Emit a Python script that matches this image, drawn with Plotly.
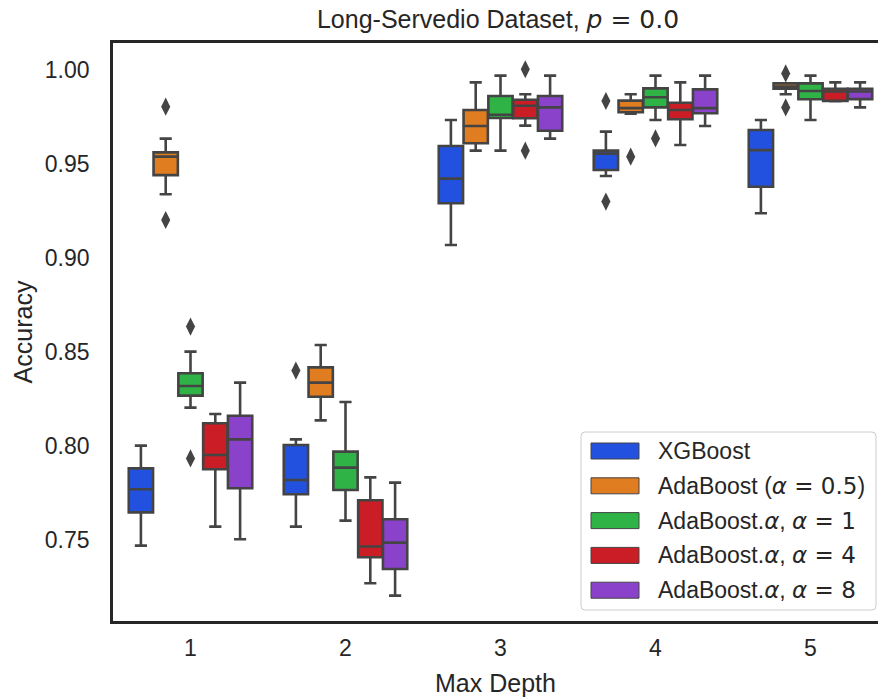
import plotly.graph_objects as go

# Accuracy distributions per max depth, summarised as box statistics
depths = ["1", "2", "3", "4", "5"]
MATH = "<span style='font-family:DejaVu Sans'>{}</span>"
models = [
    "XGBoost",
    "AdaBoost (" + MATH.format("<i>α</i> = 0.5") + ")",
    "AdaBoost." + MATH.format("<i>α</i>") + ", " + MATH.format("<i>α</i> = 1"),
    "AdaBoost." + MATH.format("<i>α</i>") + ", " + MATH.format("<i>α</i> = 4"),
    "AdaBoost." + MATH.format("<i>α</i>") + ", " + MATH.format("<i>α</i> = 8"),
]
colors = ["#2251df", "#df7d20", "#30b346", "#cb1d25", "#8a42cb"]

xgb_lower = [0.7470, 0.7571, 0.9069, 0.9436, 0.9238]
xgb_q1 = [0.7647, 0.7743, 0.9291, 0.9468, 0.9379]
xgb_median = [0.7770, 0.7819, 0.9422, 0.9555, 0.9574]
xgb_q3 = [0.7881, 0.8005, 0.9596, 0.9571, 0.9681]
xgb_upper = [0.8002, 0.8035, 0.9734, 0.9672, 0.9734]
xgb_fliers = [[], [0.8401], [], [0.9835, 0.9300], []]

ada_lower = [0.9339, 0.8136, 0.9571, 0.9768, 0.9871]
ada_q1 = [0.9441, 0.8262, 0.9610, 0.9775, 0.9900]
ada_median = [0.9539, 0.8337, 0.9702, 0.9797, 0.9912]
ada_q3 = [0.9562, 0.8418, 0.9787, 0.9837, 0.9929]
ada_upper = [0.9635, 0.8537, 0.9934, 0.9871, 0.9929]
ada_fliers = [[0.9805, 0.9202], [], [], [0.9539], [0.9982, 0.9801]]

a1_lower = [0.8204, 0.7603, 0.9571, 0.9734, 0.9734]
a1_q1 = [0.8268, 0.7766, 0.9745, 0.9801, 0.9844]
a1_median = [0.8319, 0.7885, 0.9762, 0.9855, 0.9888]
a1_q3 = [0.8387, 0.7970, 0.9862, 0.9902, 0.9929]
a1_upper = [0.8502, 0.8234, 0.9970, 0.9970, 0.9970]
a1_fliers = [[0.8635, 0.7934], [], [], [0.9636], []]

a4_lower = [0.7571, 0.7270, 0.9704, 0.9601, 0.9834]
a4_q1 = [0.7876, 0.7408, 0.9743, 0.9738, 0.9836]
a4_median = [0.7952, 0.7465, 0.9810, 0.9787, 0.9886]
a4_q3 = [0.8121, 0.7711, 0.9842, 0.9826, 0.9900]
a4_upper = [0.8170, 0.7833, 0.9871, 0.9934, 0.9934]
a4_fliers = [[], [], [1.0004, 0.9571], [], []]

a8_lower = [0.7504, 0.7204, 0.9635, 0.9702, 0.9801]
a8_q1 = [0.7775, 0.7346, 0.9677, 0.9770, 0.9845]
a8_median = [0.8035, 0.7486, 0.9801, 0.9797, 0.9886]
a8_q3 = [0.8161, 0.7610, 0.9862, 0.9897, 0.9900]
a8_upper = [0.8337, 0.7805, 0.9970, 0.9970, 0.9934]
a8_fliers = [[], [], [], [], []]

y_ticks = [0.75, 0.80, 0.85, 0.90, 0.95, 1.00]

stats = [
    (xgb_lower, xgb_q1, xgb_median, xgb_q3, xgb_upper, xgb_fliers),
    (ada_lower, ada_q1, ada_median, ada_q3, ada_upper, ada_fliers),
    (a1_lower, a1_q1, a1_median, a1_q3, a1_upper, a1_fliers),
    (a4_lower, a4_q1, a4_median, a4_q3, a4_upper, a4_fliers),
    (a8_lower, a8_q1, a8_median, a8_q3, a8_upper, a8_fliers),
]

GRAY = "#444444"
TEXT = "#262626"
FONT = "Liberation Sans, Arial, sans-serif"
n_hue = len(models)
group_width = 0.8
slot = group_width / n_hue
box_width = slot * 0.98

fig = go.Figure()
for j, (lo, q1, med, q3, up, fl) in enumerate(stats):
    offset = (j - (n_hue - 1) / 2) * slot
    xs = [i + offset for i in range(len(depths))]
    fig.add_trace(go.Box(
        x=xs, q1=q1, median=med, q3=q3, lowerfence=lo, upperfence=up,
        width=box_width, whiskerwidth=0.5,
        fillcolor=colors[j], line=dict(color=GRAY, width=2.6),
        boxpoints=False, name=models[j], showlegend=False,
    ))
    fx, fy = [], []
    for i, pts in enumerate(fl):
        for v in pts:
            fx.append(xs[i])
            fy.append(v)
    if fx:
        fig.add_trace(go.Scatter(
            x=fx, y=fy, mode="markers", showlegend=False,
            marker=dict(symbol="diamond-tall", size=13, color=GRAY, line=dict(width=0)),
        ))

# Plot area geometry in pixels
W, H = 878, 700
L, R, T, B = 113, 0, 43, 79
pw, ph = W - L - R, H - T - B


def px(xp):
    return (xp - L) / pw


def py(yp):
    return (H - B - yp) / ph


# Legend with rectangular patches
shapes = []
annotations = []
x0, x1, y0, y1, r = 581, 876, 432, 610, 4
path = (
    f"M {px(x0 + r)},{py(y0)} L {px(x1 - r)},{py(y0)} "
    f"Q {px(x1)},{py(y0)} {px(x1)},{py(y0 + r)} L {px(x1)},{py(y1 - r)} "
    f"Q {px(x1)},{py(y1)} {px(x1 - r)},{py(y1)} L {px(x0 + r)},{py(y1)} "
    f"Q {px(x0)},{py(y1)} {px(x0)},{py(y1 - r)} L {px(x0)},{py(y0 + r)} "
    f"Q {px(x0)},{py(y0)} {px(x0 + r)},{py(y0)} Z"
)
shapes.append(dict(type="path", xref="paper", yref="paper", path=path,
                   fillcolor="rgba(255,255,255,0.8)", line=dict(color="#cccccc", width=1)))
row0, row_step = 451, 34.8
for j, name in enumerate(models):
    yc = row0 + j * row_step
    shapes.append(dict(type="rect", xref="paper", yref="paper",
                       x0=px(591), x1=px(639), y0=py(yc + 8), y1=py(yc - 8),
                       fillcolor=colors[j], line=dict(color=GRAY, width=1)))
    annotations.append(dict(xref="paper", yref="paper", x=px(656), y=py(yc),
                            xanchor="left", yanchor="middle", showarrow=False,
                            text=name, font=dict(family=FONT, size=23, color=TEXT)))

fig.update_layout(
    width=W, height=H,
    margin=dict(l=L, r=R, t=T, b=B, pad=0),
    paper_bgcolor="white", plot_bgcolor="white",
    boxmode="overlay",
    showlegend=False,
    font=dict(family=FONT, size=23, color=TEXT),
    title=dict(text="Long-Servedio Dataset, " + MATH.format("<i>p</i> = 0.0"), x=498 / W,
               xref="container", xanchor="center", y=1 - 19 / H, yref="container",
               yanchor="middle", font=dict(family=FONT, size=25, color=TEXT)),
    xaxis=dict(range=[-0.5, -0.5 + (W - 111) / 155.0 - 2 / 155.0], tickvals=list(range(len(depths))),
               ticktext=depths, showgrid=False, zeroline=False,
               showline=True, linecolor=TEXT, linewidth=2.6, mirror=True,
               ticks="outside", ticklen=5, tickcolor="rgba(0,0,0,0)",
               title=dict(text="Max Depth", font=dict(family=FONT, size=25, color=TEXT), standoff=15)),
    yaxis=dict(range=[0.70691, 1.01436], tickvals=y_ticks,
               ticktext=[f"{v:.2f}" for v in y_ticks], showgrid=False, zeroline=False,
               showline=True, linecolor=TEXT, linewidth=2.6, mirror=False,
               ticks="outside", ticklen=16, tickcolor="rgba(0,0,0,0)",
               title=dict(text="Accuracy", font=dict(family=FONT, size=25, color=TEXT), standoff=6)),
    shapes=shapes,
    annotations=annotations,
)

fig.write_html("out.html")
